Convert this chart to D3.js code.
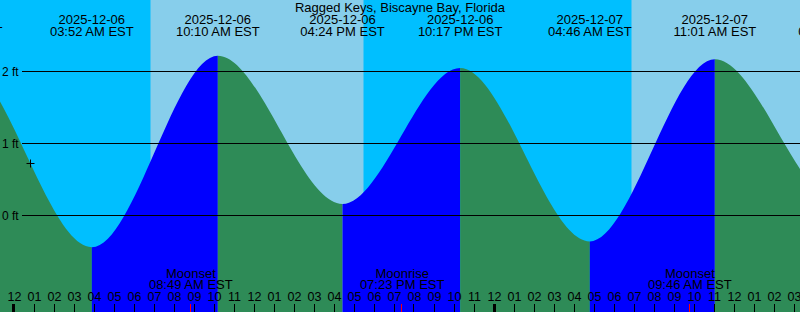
<!DOCTYPE html>
<html>
<head>
<meta charset="utf-8">
<script src="https://cdn.jsdelivr.net/npm/d3@7"></script>
<style>
  html, body { margin: 0; padding: 0; background: #00bfff; overflow: hidden; }
  svg { display: block; }
  text { font-family: "Liberation Sans", Arial, sans-serif; fill: black; }
</style>
</head>
<body>
<script>
// Данные прилива (время EST, уровень в футах)
const tideTimes = ["2025-12-05T15:05", "2025-12-05T21:17", "2025-12-06T03:52", "2025-12-06T10:10",
                   "2025-12-06T16:24", "2025-12-06T22:17", "2025-12-07T04:46", "2025-12-07T11:01",
                   "2025-12-07T17:18", "2025-12-07T23:10"];
const tideLevels = [0.18, 2.15, -0.44, 2.22, 0.16, 2.05, -0.36, 2.17, 0.15, 2.0];

const dayStarts = ["2025-12-06T06:48", "2025-12-07T06:51"];
const dayEnds = ["2025-12-06T17:27", "2025-12-07T17:28"];

const moonTimes = ["2025-12-06T08:49", "2025-12-06T19:23", "2025-12-07T09:46"];
const moonNames = ["Moonset", "Moonrise", "Moonset"];

const levelTicks = [0, 1, 2];
const nowTime = "2025-12-06T00:45";
const nowLevel = 0.73;

const title = "Ragged Keys, Biscayne Bay, Florida";

const width = 800, height = 312;
const parse = d3.timeParse("%Y-%m-%dT%H:%M");
const fmtDate = d3.timeFormat("%Y-%m-%d");
const fmtTime = d3.timeFormat("%I:%M %p EST");
const fmtHour = d3.timeFormat("%I");

const tides = tideTimes.map(function (t, i) { return {t: parse(t), v: tideLevels[i]}; });

// Шкалы
const x = d3.scaleTime()
    .domain([new Date(2025, 11, 5, 23, 16, 30), new Date(2025, 11, 7, 15, 16, 30)])
    .range([0, width]);
const y = d3.scaleLinear()
    .domain([0, 2])
    .range([215.5, 71.5]);

const svg = d3.select("body")
    .append("svg")
    .attr("width", width)
    .attr("height", height);

// Ночь / день
svg.append("rect")
    .attr("width", width)
    .attr("height", height)
    .style("fill", "#00bfff");

svg.selectAll("rect.day")
    .data(dayStarts)
    .enter()
    .append("rect")
    .attr("class", "day")
    .attr("x", function (d) { return x(parse(d)); })
    .attr("y", 0)
    .attr("width", function (d, i) { return x(parse(dayEnds[i])) - x(parse(d)); })
    .attr("height", height)
    .style("fill", "#87ceeb");

// Кривая прилива
const area = d3.area()
    .x(function (d) { return x(d.t); })
    .y0(height)
    .y1(function (d) { return y(d.v); })
    .curve(d3.curveMonotoneX);

svg.append("clipPath")
    .attr("id", "tideClip")
    .append("path")
    .attr("d", area(tides));

const segs = tides.slice(0, -1).map(function (d, i) {
    return {a: d.t, b: tides[i + 1].t, rising: tides[i + 1].v > d.v};
});

svg.append("g")
    .attr("clip-path", "url(#tideClip)")
    .selectAll("rect")
    .data(segs)
    .enter()
    .append("rect")
    .attr("x", function (d) { return x(d.a); })
    .attr("y", 0)
    .attr("width", function (d) { return x(d.b) - x(d.a); })
    .attr("height", height)
    .style("fill", function (d) { return d.rising ? "#0000ff" : "#2e8b57"; });

// Горизонтальные линии уровней
svg.selectAll("line.level")
    .data(levelTicks)
    .enter()
    .append("line")
    .attr("class", "level")
    .attr("x1", 22)
    .attr("x2", width)
    .attr("y1", function (d) { return y(d); })
    .attr("y2", function (d) { return y(d); })
    .style("stroke", "black")
    .style("stroke-width", 1);

svg.selectAll("text.level")
    .data(levelTicks)
    .enter()
    .append("text")
    .attr("class", "level")
    .attr("x", 2)
    .attr("y", function (d) { return y(d) + 4.5; })
    .attr("font-size", "12px")
    .text(function (d) { return d + " ft"; });

// Текущее время
const nx = Math.round(x(parse(nowTime))) + 0.5, ny = Math.round(y(nowLevel)) + 0.5;
svg.append("path")
    .attr("d", "M" + (nx - 4) + "," + ny + "H" + (nx + 4) + "M" + nx + "," + (ny - 4) + "V" + (ny + 4))
    .style("stroke", "black")
    .style("stroke-width", 1);

// Заголовок и подписи событий
svg.append("text")
    .attr("x", width / 2)
    .attr("y", 12)
    .attr("text-anchor", "middle")
    .attr("font-size", "13px")
    .text(title);

const eventLabels = svg.selectAll("g.event")
    .data(tides)
    .enter()
    .append("g")
    .attr("class", "event");

eventLabels.append("text")
    .attr("x", function (d) { return x(d.t); })
    .attr("y", 24)
    .attr("text-anchor", "middle")
    .attr("font-size", "13px")
    .text(function (d) { return fmtDate(d.t); });

eventLabels.append("text")
    .attr("x", function (d) { return x(d.t); })
    .attr("y", 36)
    .attr("text-anchor", "middle")
    .attr("font-size", "13px")
    .text(function (d) { return fmtTime(d.t); });

// Луна
const moons = moonTimes.map(function (t, i) { return {t: parse(t), name: moonNames[i]}; });

svg.selectAll("text.moonName")
    .data(moons)
    .enter()
    .append("text")
    .attr("class", "moonName")
    .attr("x", function (d) { return x(d.t); })
    .attr("y", 278)
    .attr("text-anchor", "middle")
    .attr("font-size", "13px")
    .text(function (d) { return d.name; });

svg.selectAll("text.moonTime")
    .data(moons)
    .enter()
    .append("text")
    .attr("class", "moonTime")
    .attr("x", function (d) { return x(d.t); })
    .attr("y", 289)
    .attr("text-anchor", "middle")
    .attr("font-size", "13px")
    .text(function (d) { return fmtTime(d.t); });

// Часовые отметки
const hours = d3.timeHour.range(new Date(2025, 11, 6, 0), new Date(2025, 11, 7, 16));

svg.selectAll("line.hour")
    .data(hours)
    .enter()
    .append("line")
    .attr("class", "hour")
    .attr("x1", function (d) { return Math.round(x(d)) - 0.5; })
    .attr("x2", function (d) { return Math.round(x(d)) - 0.5; })
    .attr("y1", 304)
    .attr("y2", height)
    .style("stroke", "black")
    .style("stroke-width", function (d) { return d.getHours() === 0 ? 3 : 1; });

svg.selectAll("text.hour")
    .data(hours)
    .enter()
    .append("text")
    .attr("class", "hour")
    .attr("x", function (d) { return x(d); })
    .attr("y", 301)
    .attr("text-anchor", "middle")
    .attr("font-size", "12.5px")
    .text(function (d) { return fmtHour(d); });

svg.selectAll("line.moon")
    .data(moons)
    .enter()
    .append("line")
    .attr("class", "moon")
    .attr("x1", function (d) { return Math.round(x(d.t)) - 0.5; })
    .attr("x2", function (d) { return Math.round(x(d.t)) - 0.5; })
    .attr("y1", 304)
    .attr("y2", height)
    .style("stroke", "red")
    .style("stroke-width", 1);
</script>
</body>
</html>
